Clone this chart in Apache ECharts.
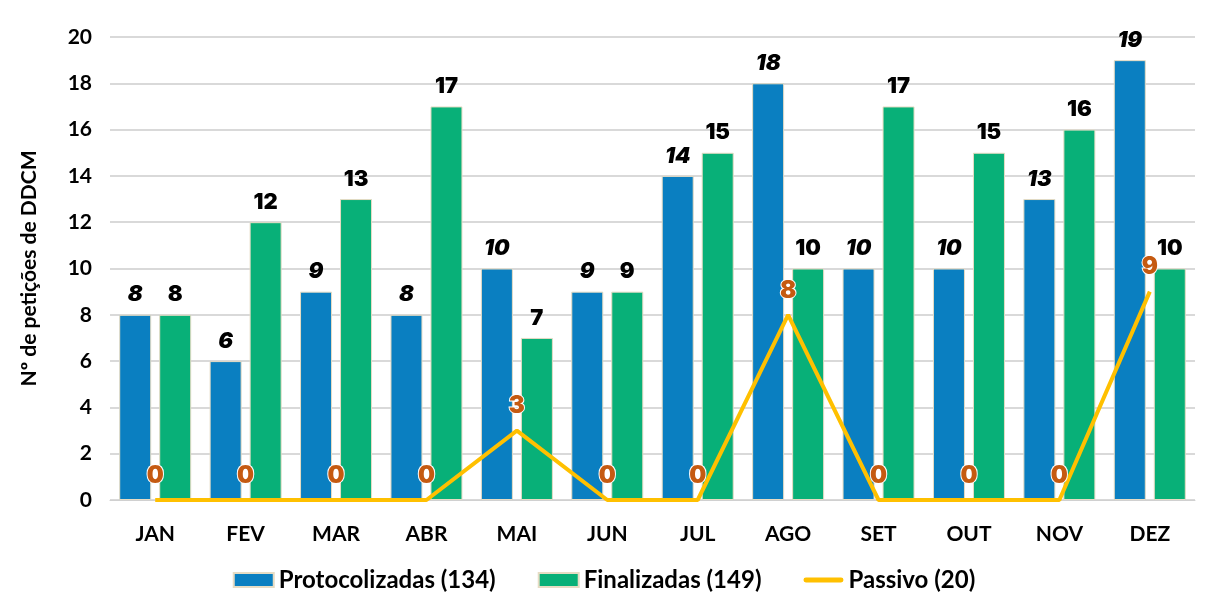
<!DOCTYPE html>
<html>
<head>
<meta charset="utf-8">
<script src="https://cdn.jsdelivr.net/npm/echarts@6/dist/echarts.min.js"></script>
<style>
  html, body { margin: 0; padding: 0; background: #fff; }
  #chart { width: 1208px; height: 615px; }
</style>
</head>
<body>
<div id="chart"></div>
<script>
const meses = ['JAN', 'FEV', 'MAR', 'ABR', 'MAI', 'JUN', 'JUL', 'AGO', 'SET', 'OUT', 'NOV', 'DEZ']
const protocolizadas = [8, 6, 9, 8, 10, 9, 14, 18, 10, 10, 13, 19]
const finalizadas = [8, 12, 13, 17, 7, 9, 15, 10, 17, 15, 16, 10]
const passivo = [0, 0, 0, 0, 3, 0, 0, 8, 0, 0, 0, 9]
const nomes = ['Protocolizadas (134)', 'Finalizadas (149)', 'Passivo (20)']

const chart = echarts.init(document.getElementById('chart'))
const labelFont = 'Inter, Roboto, sans-serif'
const axisFont = 'Lato, "Open Sans", sans-serif'

chart.setOption({
  animation: false,
  grid: {
    left: 110,
    right: 13,
    top: 37,
    bottom: 115
  },
  legend: {
    bottom: 18,
    left: 'center',
    itemWidth: 40,
    itemHeight: 14,
    itemGap: 42,
    textStyle: {
      fontFamily: axisFont,
      fontWeight: 'bold',
      fontSize: 24,
      color: '#000'
    },
    data: [
      { name: nomes[0], icon: 'rect' },
      { name: nomes[1], icon: 'rect' },
      {
        name: nomes[2],
        icon: 'path://M2,0 H38 A2,2 0 0 1 38,5 H2 A2,2 0 0 1 2,0 Z',
        itemStyle: { color: '#ffc000' }
      }
    ]
  },
  xAxis: {
    type: 'category',
    data: meses,
    axisTick: { show: false },
    axisLine: { lineStyle: { color: '#d0d0d0', width: 1 } },
    axisLabel: {
      margin: 24,
      fontFamily: axisFont,
      fontWeight: 'bold',
      fontSize: 21,
      color: '#000'
    }
  },
  yAxis: {
    type: 'value',
    min: 0,
    max: 20,
    interval: 2,
    name: 'Nº de petições de DDCM',
    nameLocation: 'middle',
    nameGap: 70,
    nameTextStyle: {
      fontFamily: axisFont,
      fontWeight: 'bold',
      fontSize: 21,
      color: '#000'
    },
    axisLabel: {
      margin: 18,
      fontFamily: axisFont,
      fontWeight: 'bold',
      fontSize: 21,
      color: '#000'
    },
    splitLine: { lineStyle: { color: '#d9d9d9', width: 2 } }
  },
  series: [
    {
      name: nomes[0],
      type: 'bar',
      data: protocolizadas,
      barWidth: 32,
      barGap: '25%',
      itemStyle: { color: '#0a7fc1', borderColor: '#e6dcc4', borderWidth: 1 },
      label: {
        show: true,
        position: 'top',
        distance: 9,
        fontFamily: labelFont,
        fontWeight: 900,
        fontStyle: 'italic',
        fontSize: 22,
        color: '#000'
      }
    },
    {
      name: nomes[1],
      type: 'bar',
      data: finalizadas,
      barWidth: 32,
      itemStyle: { color: '#08b078', borderColor: '#e6dcc4', borderWidth: 1 },
      label: {
        show: true,
        position: 'top',
        distance: 9,
        fontFamily: labelFont,
        fontWeight: 900,
        fontSize: 22,
        color: '#000'
      }
    },
    {
      name: nomes[2],
      type: 'line',
      data: passivo,
      symbol: 'circle',
      symbolSize: 1,
      showSymbol: true,
      z: 5,
      lineStyle: { color: '#ffc000', width: 4 },
      itemStyle: { color: 'transparent' },
      label: {
        show: true,
        position: 'top',
        distance: 12,
        fontFamily: labelFont,
        fontWeight: 900,
        fontSize: 24,
        color: '#c55a11',
        textBorderColor: '#fff',
        textBorderWidth: 2
      }
    }
  ]
})
</script>
</body>
</html>
